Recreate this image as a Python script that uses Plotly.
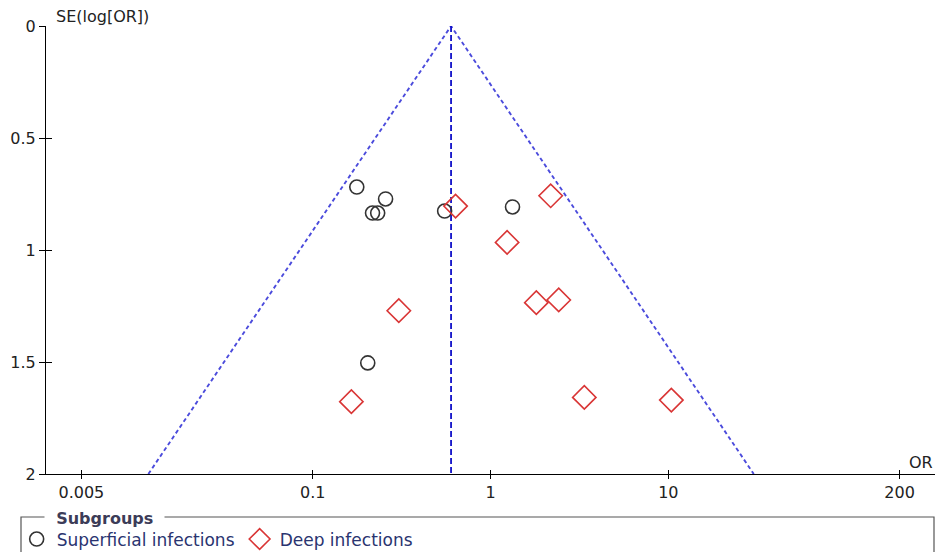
import plotly.graph_objects as go
import math

# ---- data ----
sup_or = [0.177, 0.257, 0.217, 0.232, 0.552, 1.33, 0.204]
sup_se = [0.719, 0.772, 0.835, 0.835, 0.826, 0.808, 1.504]

deep_or = [0.636, 2.18, 1.24, 0.305, 1.81, 2.42, 3.37, 10.4, 0.165]
deep_se = [0.804, 0.758, 0.966, 1.271, 1.235, 1.223, 1.658, 1.670, 1.677]

pooled_or = 0.60
se_max = 2.0

x_tickvals = [0.005, 0.1, 1, 10, 200]
x_ticktext = ["0.005", "0.1", "1", "10", "200"]
y_tickvals = [0, 0.5, 1, 1.5, 2]
y_ticktext = ["0", "0.5", "1", "1.5", "2"]

W, H = 935, 552
L, R, T, B = 46, 0, 26, 78
FONT = "DejaVu Sans, Verdana, sans-serif"

# funnel limits (95%)
lo = math.exp(math.log(pooled_or) - 1.96 * se_max)
hi = math.exp(math.log(pooled_or) + 1.96 * se_max)

fig = go.Figure()
FUN = "#4b4bdc"
fig.add_trace(go.Scatter(x=[lo, pooled_or, hi], y=[se_max, 0, se_max], mode="lines",
                         line=dict(color=FUN, width=1.9, dash="4px,3px"),
                         showlegend=False, hoverinfo="skip"))
fig.add_trace(go.Scatter(x=[pooled_or, pooled_or], y=[0, se_max], mode="lines",
                         line=dict(color="#1010c8", width=1.8, dash="6px,3px"),
                         showlegend=False, hoverinfo="skip"))

fig.add_trace(go.Scatter(x=sup_or, y=sup_se, mode="markers", name="Superficial infections",
                         marker=dict(symbol="circle-open", size=14, color="#333333",
                                     line=dict(width=1.6, color="#333333")),
                         cliponaxis=False))
fig.add_trace(go.Scatter(x=deep_or, y=deep_se, mode="markers", name="Deep infections",
                         marker=dict(symbol="diamond-open", size=18, color="#d93535",
                                     line=dict(width=1.6, color="#d93535")),
                         cliponaxis=False))

# dummy trace for inward tick overlay axes
fig.add_trace(go.Scatter(x=[1], y=[1], xaxis="x2", yaxis="y2", mode="markers",
                         marker=dict(opacity=0), showlegend=False, hoverinfo="skip"))

xr = [-2.5, 2.5]
yr = [2, 0]
tickfont = dict(family=FONT, size=16, color="#222222")

fig.update_layout(
    width=W, height=H,
    margin=dict(l=L, r=R, t=T, b=B, autoexpand=False),
    paper_bgcolor="white", plot_bgcolor="white",
    font=dict(family=FONT, color="#222222"),
    xaxis=dict(type="log", range=xr, showgrid=False, zeroline=False,
               showline=True, linecolor="#000000", linewidth=1,
               ticks="outside", ticklen=4, tickcolor="#000000",
               tickvals=x_tickvals, ticktext=x_ticktext, tickfont=tickfont,
               automargin=False),
    yaxis=dict(range=yr, showgrid=False, zeroline=False,
               showline=True, linecolor="#000000", linewidth=1,
               ticks="outside", ticklen=6, tickcolor="#000000",
               tickvals=y_tickvals, ticktext=y_ticktext, tickfont=tickfont,
               automargin=False),
    xaxis2=dict(type="log", range=xr, overlaying="x", anchor="y2", side="bottom",
                showgrid=False, zeroline=False, showline=False,
                ticks="inside", ticklen=4, tickcolor="#000000",
                tickvals=x_tickvals, showticklabels=False),
    yaxis2=dict(range=yr, overlaying="y", anchor="x2", side="left",
                showgrid=False, zeroline=False, showline=False,
                ticks="inside", ticklen=6, tickcolor="#000000",
                tickvals=y_tickvals, showticklabels=False),
    showlegend=True,
    legend=dict(orientation="h", x=-0.033, y=-0.106, xanchor="left", yanchor="top",
                bgcolor="rgba(0,0,0,0)", borderwidth=0,
                font=dict(family=FONT, size=17, color="#2a3470"),
                itemwidth=30, tracegroupgap=0),
)

pw = W - L - R
ph = H - T - B
def px2x(px):
    return (px - L) / pw
def py2y(py):
    return (H - B - py) / ph

# legend box
fig.add_shape(type="rect", xref="paper", yref="paper",
              x0=px2x(21), x1=px2x(934), y0=py2y(560), y1=py2y(517),
              line=dict(color="#555555", width=1.2), fillcolor="rgba(0,0,0,0)")

fig.add_annotation(text="&nbsp;&nbsp;<b>Subgroups</b>&nbsp;&nbsp;", xref="paper", yref="paper",
                   x=px2x(44), y=py2y(518), xanchor="left", yanchor="middle",
                   showarrow=False, bgcolor="white", borderpad=1,
                   font=dict(family=FONT, size=16, color="#3c3c58"))

fig.add_annotation(text="SE(log[OR])", xref="paper", yref="paper",
                   x=px2x(54), y=py2y(17), xanchor="left", yanchor="middle",
                   showarrow=False,
                   font=dict(family=FONT, size=16, color="#222222"))
fig.add_annotation(text="OR", xref="paper", yref="paper",
                   x=px2x(935), y=py2y(462), xanchor="right", yanchor="middle",
                   showarrow=False,
                   font=dict(family=FONT, size=16, color="#222222"))

fig.write_html("out.html",
               config={"displayModeBar": False},
               post_script="document.body.style.margin='0';document.body.style.overflow='hidden';")
